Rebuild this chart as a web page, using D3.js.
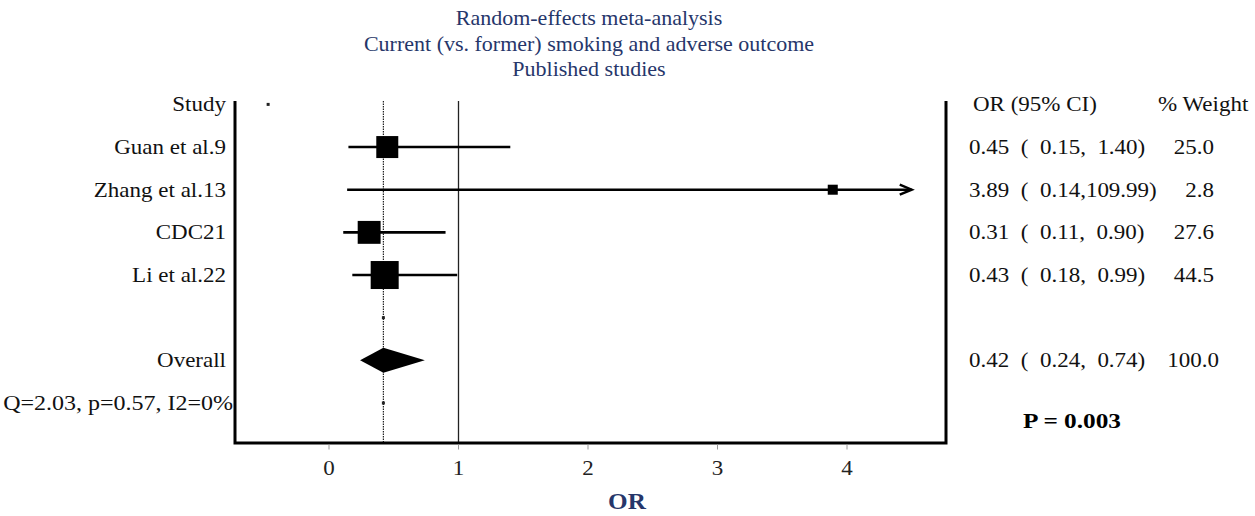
<!DOCTYPE html>
<html><head><meta charset="utf-8">
<script src="https://cdn.jsdelivr.net/npm/d3@7"></script>
<style>body{margin:0;background:#fff}svg{display:block}text{font-family:"Liberation Serif","Times New Roman",serif}</style>
</head><body><svg id="c" width="1255" height="516"></svg>
<script>
const titleLines = ["Random-effects meta-analysis","Current (vs. former) smoking and adverse outcome","Published studies"];
const studies = ["Guan et al.9","Zhang et al.13","CDC21","Li et al.22"];
const orValues = [0.45, 3.89, 0.31, 0.43];
const ciLower = [0.15, 0.14, 0.11, 0.18];
const ciUpper = [1.40, 109.99, 0.90, 0.99];
const weights = [25.0, 2.8, 27.6, 44.5];
const ciTexts = ["0.45  (  0.15,  1.40)","3.89  (  0.14,109.99)","0.31  (  0.11,  0.90)","0.43  (  0.18,  0.99)"];
const weightTexts = ["25.0","2.8","27.6","44.5"];
const overallOR = 0.42, overallLo = 0.24, overallHi = 0.74;
const overallCIText = "0.42  (  0.24,  0.74)";
const overallWeightText = "100.0";
const hetText = "Q=2.03, p=0.57, I2=0%";
const pText = "P = 0.003";
const xTicks = [0,1,2,3,4];
const axisMax = 4.5;   // display limit (arrow)
const headerDot = -0.47;

const svg = d3.select("#c");
const SX = 1.15;
const navy = "#26366a";

const x = d3.scaleLinear().domain([0,4]).range([329,847]);
const rows = ["header", ...studies, "blank", "overall", "het"];
const y = d3.scalePoint().domain(d3.range(rows.length)).range([104.4, 403]);
const frameL = 235, frameR = 946, frameTop = 101, frameBot = 443;
const size = d3.scaleSqrt().domain([0, 44.5]).range([4, 28]);

function txt(g, s, px, py, opts={}) {
  return g.append("text")
    .attr("transform", `translate(${px},${py}) scale(${opts.sx||SX},1)`)
    .attr("text-anchor", opts.anchor||"start")
    .attr("font-size", opts.size||20)
    .attr("font-weight", opts.weight||"normal")
    .attr("fill", opts.fill||"#111")
    .attr("xml:space","preserve")
    .style("white-space","pre")
    .text(s);
}

// title
titleLines.forEach((t,i)=> txt(svg, t, 589, 25 + i*25.5, {anchor:"middle", size:20, fill:navy, sx:1.1}));

// reference lines
svg.append("line").attr("x1",x(1)).attr("x2",x(1)).attr("y1",frameTop).attr("y2",frameBot)
  .attr("stroke","#222").attr("stroke-width",1.3);
svg.append("line").attr("x1",x(overallOR)).attr("x2",x(overallOR)).attr("y1",frameTop).attr("y2",frameBot)
  .attr("stroke","#222").attr("stroke-width",1.2).attr("stroke-dasharray","1.5,1");

// frame
svg.append("path").attr("d",`M${frameL},${frameTop}V${frameBot}H${frameR}V${frameTop}`)
  .attr("fill","none").attr("stroke","#000").attr("stroke-width",3);

// axis ticks
const ax = svg.append("g").attr("transform",`translate(0,${frameBot+1.5})`);
ax.selectAll("line").data(xTicks).join("line")
  .attr("x1",d=>x(d)).attr("x2",d=>x(d)).attr("y1",0).attr("y2",5).attr("stroke","#999").attr("stroke-width",1);
xTicks.forEach(d=> txt(ax, String(d), x(d), 30, {anchor:"middle", size:20, fill:"#222"}));
txt(svg, "OR", 627, 509, {anchor:"middle", size:24, weight:"bold", fill:navy, sx:1.05});

// CI lines
const g = svg.append("g");
studies.forEach((s,i)=>{
  const yy = y(i+1);
  const hi = Math.min(ciUpper[i], axisMax);
  g.append("line").attr("x1",x(ciLower[i])).attr("x2",x(hi)).attr("y1",yy).attr("y2",yy)
    .attr("stroke","#000").attr("stroke-width",2.6);
  if (ciUpper[i] > axisMax) {
    g.append("path").attr("d",`M${x(hi)-12},${yy-5}L${x(hi)},${yy}L${x(hi)-12},${yy+5}`)
      .attr("fill","none").attr("stroke","#000").attr("stroke-width",2.4);
  }
  const sz = size(weights[i]);
  g.append("rect").attr("x",x(orValues[i])-sz/2).attr("y",yy-sz/2).attr("width",sz).attr("height",sz).attr("fill","#000");
});

// small markers
g.append("rect").attr("x",x(headerDot)-1.5).attr("y",y(0)-1.5).attr("width",3).attr("height",3).attr("fill","#222");
[5,7].forEach(r=> g.append("rect").attr("x",x(overallOR)-1.5).attr("y",y(r)-1.5).attr("width",3).attr("height",3).attr("fill","#222"));

// diamond
const yo = y(6);
g.append("path").attr("d",`M${x(overallLo)},${yo}L${x(overallOR)},${yo-12.5}L${x(overallHi)},${yo}L${x(overallOR)},${yo+12.5}Z`).attr("fill","#000");

// left labels
const left = 226;
txt(svg, "Study", left, y(0)+7, {anchor:"end"});
studies.forEach((s,i)=> txt(svg, s, left, y(i+1)+7, {anchor:"end"}));
txt(svg, "Overall", left, y(6)+7, {anchor:"end"});
txt(svg, hetText, 233, y(7)+7, {anchor:"end", sx:1.2});

// right columns
txt(svg, "OR (95% CI)", 973, y(0)+7);
txt(svg, "% Weight", 1158, y(0)+7);
ciTexts.forEach((t,i)=> txt(svg, t, 969, y(i+1)+7));
weightTexts.forEach((t,i)=> txt(svg, t, 1214, y(i+1)+7, {anchor:"end"}));
txt(svg, overallCIText, 969, y(6)+7);
txt(svg, overallWeightText, 1219, y(6)+7, {anchor:"end"});
txt(svg, pText, 1072, 428, {anchor:"middle", size:22, weight:"bold", fill:"#000"});
</script></body></html>
